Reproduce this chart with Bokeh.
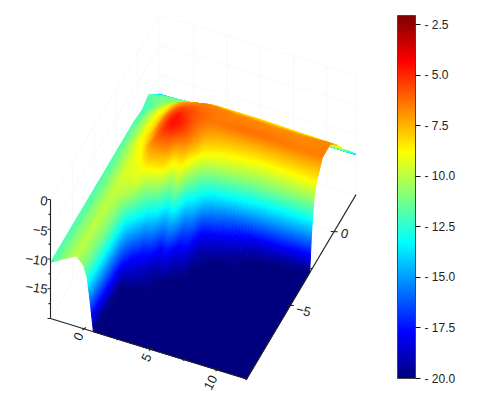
import math
from bokeh.plotting import figure
from bokeh.models import ColorBar, LinearColorMapper, FixedTicker, AllLabels
from bokeh.core.properties import value
from bokeh.embed import file_html
from bokeh.resources import INLINE

# mesh nodes
x_nodes = [-2.55,-1.57,-0.6,-0.05,0.21,0.45,0.68,1.0,1.5,2,2.5,3,3.5,4,4.5,5,6,8,10,12.2]
y_nodes = [2.5,1.8,1.2,0.5,-0.4,-1.35,-2,-2.34,-2.6,-2.8,-3,-3.4,-4,-4.5,-5,-5.5,-6,-7,-10]
z_rows = [
 [-14.3]*20,
 [-12.9,-12.6,-12.5,-12.4,-12.4,-12.4,-12.4,-12.4,-12.4,-12.4,-12.4,-12.4,-12.4,-12.4,-12.4,-12.4,-12.4,-12.4,-12.4,-12.4],
 [-11.7,-11.3,-11.2,-11.1,-11,-11,-11,-11,-11,-11,-11,-11,-11,-11,-11,-11,-11,-11,-11,-11],
 [-12.3,-11.2,-10.3,-10,-9.8,-9.7,-9.5,-9.2,-9,-8.8,-8.6,-8.5,-8.5,-8.5,-8.5,-8.5,-8.5,-8.6,-8.7,-8.8],
 [-12,-10.6,-9.2,-8.6,-8.2,-7.9,-7.6,-7.3,-7,-6.8,-6.6,-6.5,-6.5,-6.6,-6.6,-6.7,-6.7,-6.8,-6.8,-6.6],
 [-12,-10.5,-8.9,-8.1,-7.7,-7.2,-6.8,-6.3,-5.8,-5.6,-5.7,-6,-6.2,-6.4,-6.4,-6.4,-6.3,-6.3,-6.5,-6.6],
 [-12,-10.5,-8.9,-8.1,-7.6,-7,-6.5,-5.9,-5.2,-4.9,-5.3,-6,-6.8,-7.5,-7.9,-8.2,-8.6,-9.2,-9,-8.6],
 [-12,-10.5,-8.9,-8.1,-7.6,-7,-6.5,-5.9,-5,-4.6,-5,-6,-7,-8.5,-9,-9.5,-10,-11,-11,-10.8],
 [-12,-10.5,-8.9,-8.1,-7.6,-7,-6.5,-5.9,-5,-4.5,-5,-6.2,-7.5,-9.8,-10.8,-11.5,-12.5,-14.5,-15,-15],
 [-12,-10.5,-9,-8.2,-7.7,-7.2,-6.7,-6,-5,-4.5,-5.2,-6.5,-8,-11,-12.5,-13.8,-15.5,-18.5,-19,-20],
 [-12,-10.6,-9.1,-8.4,-7.8,-7.3,-6.8,-6,-5,-4.6,-6,-7,-9.3,-12.2,-14,-15.5,-17,-19.5,-20,-20],
 [-12,-10.7,-9.3,-8.8,-8.2,-7.4,-6.9,-6.3,-6,-6.2,-8.6,-8.1,-12.4,-14,-17.5,-18.3,-19,-20,-20,-20],
 [-12,-10.8,-9.4,-9.2,-9,-8.8,-8.2,-7.8,-8,-8.6,-12,-10.5,-16,-16.5,-19,-19.5,-20,-20,-20,-20],
 [-12,-10.8,-9.5,-9.3,-9.2,-9,-9.3,-9.8,-10.5,-11.5,-15,-14,-17.8,-17.6,-19.5,-20,-20,-20,-20,-20],
 [-12,-10.9,-9.6,-9.7,-9.6,-9.5,-10,-11.5,-13.6,-15,-17.8,-17,-19.2,-19,-20,-20,-20,-20,-20,-20],
 [-12,-10.9,-9.7,-10,-10.2,-11,-11.7,-13.8,-17,-17.3,-19,-18.4,-19.5,-20,-20,-20,-20,-20,-20,-20],
 [-12,-10.9,-9.8,-10.6,-11.8,-14,-15,-17.3,-18,-19,-19.5,-20,-20,-20,-20,-20,-20,-20,-20,-20],
 [-12,-10.9,-9.9,-10.8,-12.3,-16,-19.5,-20,-20,-20,-20,-20,-20,-20,-20,-20,-20,-20,-20,-20],
 [-12,-10.9,-9.9,-11,-12.5,-16.1,-20,-20,-20,-20,-20,-20,-20,-20,-20,-20,-20,-20,-20,-20],
]
bar_ticks = [-2.5,-5,-7.5,-10,-12.5,-15,-17.5,-20]
bar_labels = ["- 2.5","- 5.0","- 7.5","- 10.0","- 12.5","- 15.0","- 17.5","- 20.0"]
x_tick_labels = ["0","5","10"]
y_tick_labels = ["0","−5"]
z_tick_labels = ["0","−5","−10","−15"]
z_low, z_high = -20.0, -2.05

def jet(t):
    c = lambda a: max(0.0, min(1.0, a))
    return "#%02x%02x%02x" % (int(255*c(1.5-abs(4*t-3))), int(255*c(1.5-abs(4*t-2))), int(255*c(1.5-abs(4*t-1))))
palette = [jet(i/255) for i in range(256)]

def color(z):
    i = int((z-z_low)/(z_high-z_low)*256)
    return palette[max(0, min(255, i))]

# oblique projection of the axes box
def proj(x, y, z):
    X, Y, h = x+2.55, y+10, 7.0*(z+20)
    return 50+13.3*X+8.75*Y, 318+4.1*X-14.75*Y-h

def proj_axis(x, y, z):
    X, Y, h = x+2.55, y+10, 5.95*(z+20)
    return 50+13.3*X+8.75*Y, 318+4.1*X-14.75*Y-h

p = figure(width=466, height=396, x_range=(0,466), y_range=(396,0),
           output_backend="svg", toolbar_location=None, min_border=0)
p.axis.visible = False
p.grid.visible = False
p.outline_line_color = None

# faint walls
GRID = "#f9f9f9"
gxs, gys = [], []
def seg(a, b):
    gxs.append([a[0], b[0]]); gys.append([a[1], b[1]])
x0, x1, y0, y1 = -2.55, 12.2, -10, 2.5
for z in [0,-5,-10,-15]:
    seg(proj_axis(x0,y0,z), proj_axis(x0,y1,z))
    seg(proj_axis(x0,y1,z), proj_axis(x1,y1,z))
seg(proj_axis(x0,y1,-20), proj_axis(x1,y1,-20))
seg(proj_axis(x0,y0,-20), proj_axis(x0,y1,-20))
seg(proj_axis(x0,y1,0), proj_axis(x0,y1,-20))
seg(proj_axis(x1,y1,0), proj_axis(x1,y1,-20))
for x in [0,2.5,5,7.5,10]:
    seg(proj_axis(x,y1,0), proj_axis(x,y1,-20))
for y in [-7.5,-5,-2.5,0]:
    seg(proj_axis(x0,y,0), proj_axis(x0,y,-20))
seg(proj_axis(x0,0,-20), proj_axis(x1,0,-20))
p.multi_line(gxs, gys, line_color=GRID, line_width=1)

# surface, back to front, each mesh cell shaded across sub-quads
xs, ys, cs = [], [], []
for j in range(len(y_nodes)-1):
    for i in range(len(x_nodes)-1):
        a, b = z_rows[j][i], z_rows[j][i+1]
        c, d = z_rows[j+1][i], z_rows[j+1][i+1]
        xa, xb = x_nodes[i], x_nodes[i+1]
        ya, yb = y_nodes[j], y_nodes[j+1]
        span = max(a,b,c,d)-min(a,b,c,d)
        if span < 0.01:
            nx = ny = 1
        else:
            nx = max(1, math.ceil(max(13.3*(xb-xa)/3, 7*max(abs(a-b),abs(c-d))/2.5)))
            ny = max(1, math.ceil((14.75*(ya-yb)+7*max(abs(a-c),abs(b-d)))/2.5))
        for v in range(ny):
            for u in range(nx):
                us = (u/nx, (u+1)/nx); vs = (v/ny, (v+1)/ny)
                corners = [(us[0],vs[0]),(us[1],vs[0]),(us[1],vs[1]),(us[0],vs[1])]
                px, py, tot = [], [], 0
                for s, t in corners:
                    z = (a*(1-s)+b*s)*(1-t)+(c*(1-s)+d*s)*t
                    tot += z
                    q = proj(xa+(xb-xa)*s, ya+(yb-ya)*t, z)
                    px.append(q[0]); py.append(q[1])
                xs.append(px); ys.append(py); cs.append(color(tot/4))
p.patches(xs, ys, fill_color=cs, line_color=cs, line_width=1.0)

# axes lines and ticks
INK = "#222222"
ax, ay = [], []
def aseg(a, b):
    ax.append([a[0], b[0]]); ay.append([a[1], b[1]])
aseg(proj_axis(x0,y0,0), proj_axis(x0,y0,-20))
aseg(proj_axis(x0,y0,-20), proj_axis(x1,y0,-20))
aseg(proj_axis(x1,y0,-20), proj_axis(x1,y1,-20))
for k, z in enumerate([0,-2.5,-5,-7.5,-10,-12.5,-15,-17.5,-20]):
    q = proj_axis(x0,y0,z); L = 3 if k % 2 == 0 else 2
    aseg(q, (q[0]-L, q[1]))
for k, x in enumerate([0,2.5,5,7.5,10,12.2]):
    q = proj_axis(x,y0,-20); L = 1.0 if k % 2 == 0 else 0.6
    aseg((q[0]-2*L, q[1]+1), (q[0]+1.5*L, q[1]-1.5*L))
for k, y in enumerate([-7.5,-5,-2.5,0]):
    q = proj_axis(x1,y,-20); L = 3.5 if k % 2 == 1 else 2
    aseg((q[0]-L, q[1]), (q[0]+(L if k % 2 else 0), q[1]+0.3))
p.multi_line(ax, ay, line_color=INK, line_width=1.1)

# tick labels
p.text([78,146,210], [336,357,382], text=x_tick_labels, angle=1.1, text_font=value("Liberation Sans"),
       text_font_size="13px", text_color=INK, text_align="center", text_baseline="middle")
p.text([344,303], [233,310], text=y_tick_labels, angle=-0.25, text_font=value("Liberation Sans"),
       text_font_size="13px", text_color=INK, text_align="center", text_baseline="middle")
p.text([47,47,47,47], [201,231,261,289], text=z_tick_labels, angle=-0.15, text_font=value("Liberation Sans"),
       text_font_size="13px", text_color=INK, text_align="right", text_baseline="middle")

mapper = LinearColorMapper(palette=palette, low=z_low, high=z_high)
bar = ColorBar(color_mapper=mapper, ticker=FixedTicker(ticks=bar_ticks),
               major_label_overrides=dict(zip(bar_ticks, bar_labels)),
               major_label_policy=AllLabels(),
               width=18, height=363, location=(397, 18), padding=0, margin=0,
               background_fill_color=None, border_line_color=None,
               bar_line_color="#444444", bar_line_width=1,
               major_tick_in=0, major_tick_out=5, major_tick_line_color="#111111",
               minor_tick_line_color=None, label_standoff=4,
               major_label_text_font="Liberation Sans", major_label_text_font_size="12px",
               major_label_text_color="#222222")
p.add_layout(bar, "center")

open("out.html", "w").write(file_html(p, INLINE))
